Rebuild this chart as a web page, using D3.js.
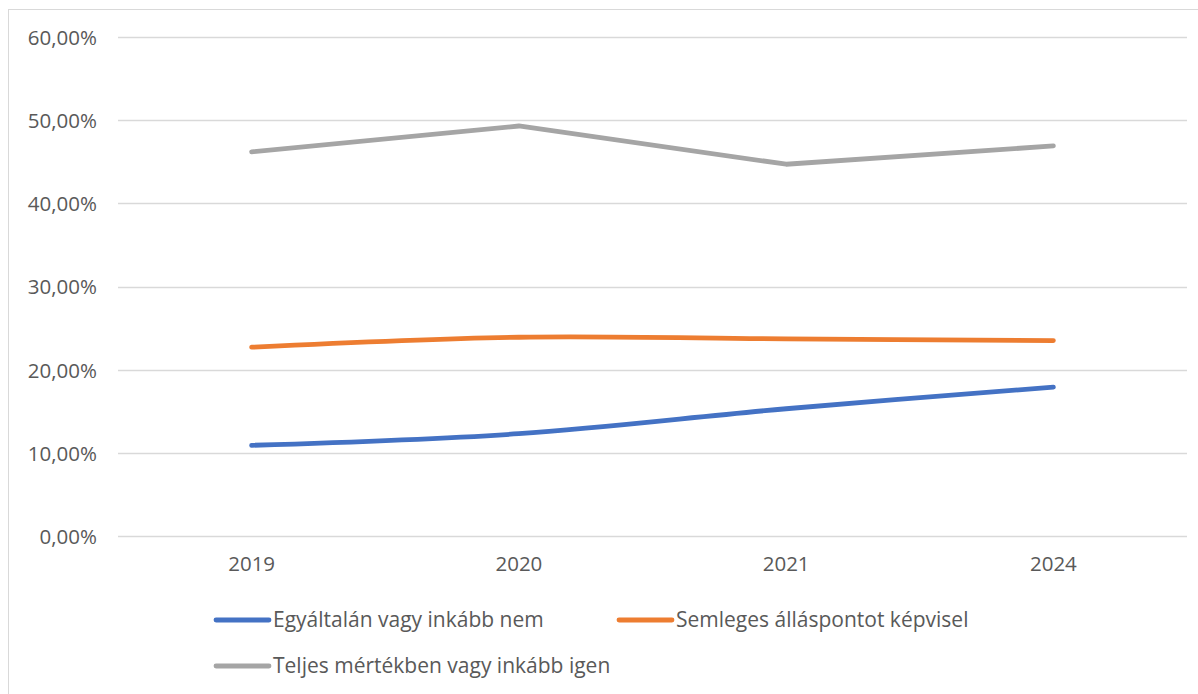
<!DOCTYPE html>
<html><head><meta charset="utf-8">
<script src="https://cdn.jsdelivr.net/npm/d3@7"></script>
<style>
html,body{margin:0;padding:0;background:#fff;}
svg{display:block;font-family:"Open Sans","Noto Sans",sans-serif;}
</style></head>
<body><svg id="c" width="1198" height="694"></svg>
<script>
const categories = ["2019","2020","2021","2024"];
const seriesNames = ["Egyáltalán vagy inkább nem","Semleges álláspontot képvisel","Teljes mértékben vagy inkább igen"];
const valuesNem = [0.109, 0.123, 0.153, 0.179];
const valuesSemleges = [0.227, 0.239, 0.237, 0.235];
const valuesIgen = [0.462, 0.493, 0.447, 0.469];
const yTicks = [0, 0.1, 0.2, 0.3, 0.4, 0.5, 0.6];
const colors = ["#4472C4","#ED7D31","#A5A5A5"];

(function(){
const series = [
  {name: seriesNames[0], values: valuesNem, color: colors[0], smooth: true},
  {name: seriesNames[1], values: valuesSemleges, color: colors[1], smooth: true},
  {name: seriesNames[2], values: valuesIgen, color: colors[2], smooth: false}
];
const FONT = "'Open Sans','Noto Sans',sans-serif";
const FS = "20.5px";
const LFS = "21px";
const TXT = "#595959";

const svg = d3.select("#c");
svg.append("rect").attr("x",8.5).attr("y",9.5).attr("width",1250).attr("height",720)
  .attr("fill","none").attr("stroke","#d9d9d9").attr("stroke-width",1);

const pl = 118, pr = 1187, pt = 37, pb = 536;
const x = d3.scaleBand().domain(categories).range([pl, pr]);
const y = d3.scaleLinear().domain([0, 0.6]).range([pb, pt]);

const fmt = v => d3.format(".2f")(v*100).replace(".", ",") + "%";

svg.append("g").selectAll("line").data(yTicks).join("line")
  .attr("x1", pl).attr("x2", pr)
  .attr("y1", d => Math.round(y(d))+0.5).attr("y2", d => Math.round(y(d))+0.5)
  .attr("stroke", "#d9d9d9").attr("stroke-width", 1.3);

const yAxis = d3.axisLeft(y).tickValues(yTicks).tickFormat(fmt).tickSize(0).tickPadding(0);
const gy = svg.append("g").attr("transform", `translate(97,0)`).call(yAxis);
gy.select(".domain").remove();
gy.selectAll("text").attr("fill",TXT).attr("font-size",FS)
  .attr("font-family",FONT).attr("dy","0.36em");

const xAxis = d3.axisBottom(x).tickSize(0).tickPadding(0);
const gx = svg.append("g").attr("transform", `translate(0,${556})`).call(xAxis);
gx.select(".domain").remove();
gx.selectAll("text").attr("fill",TXT).attr("font-size",FS)
  .attr("font-family",FONT);

series.forEach(s => {
  const line = d3.line()
    .x((d,i) => x(categories[i]) + x.bandwidth()/2)
    .y(d => y(d))
    .curve(s.smooth ? d3.curveCatmullRom.alpha(0.5) : d3.curveLinear);
  svg.append("path").datum(s.values)
    .attr("d", line).attr("fill","none")
    .attr("stroke", s.color).attr("stroke-width", 4.8)
    .attr("stroke-linecap","round").attr("stroke-linejoin","round");
});

const legendPos = [[216,620],[619,620],[216,666]];
const lg = svg.append("g");
series.forEach((s,i) => {
  const [lx, ly] = legendPos[i];
  lg.append("line").attr("x1", lx).attr("x2", lx+53).attr("y1", ly).attr("y2", ly)
    .attr("stroke", s.color).attr("stroke-width", 4.8).attr("stroke-linecap","round");
  lg.append("text").attr("x", lx+57).attr("y", ly).attr("dy","0.34em")
    .attr("fill",TXT).attr("font-size",LFS)
    .attr("font-family",FONT)
    .text(s.name);
});
})();
</script></body></html>
